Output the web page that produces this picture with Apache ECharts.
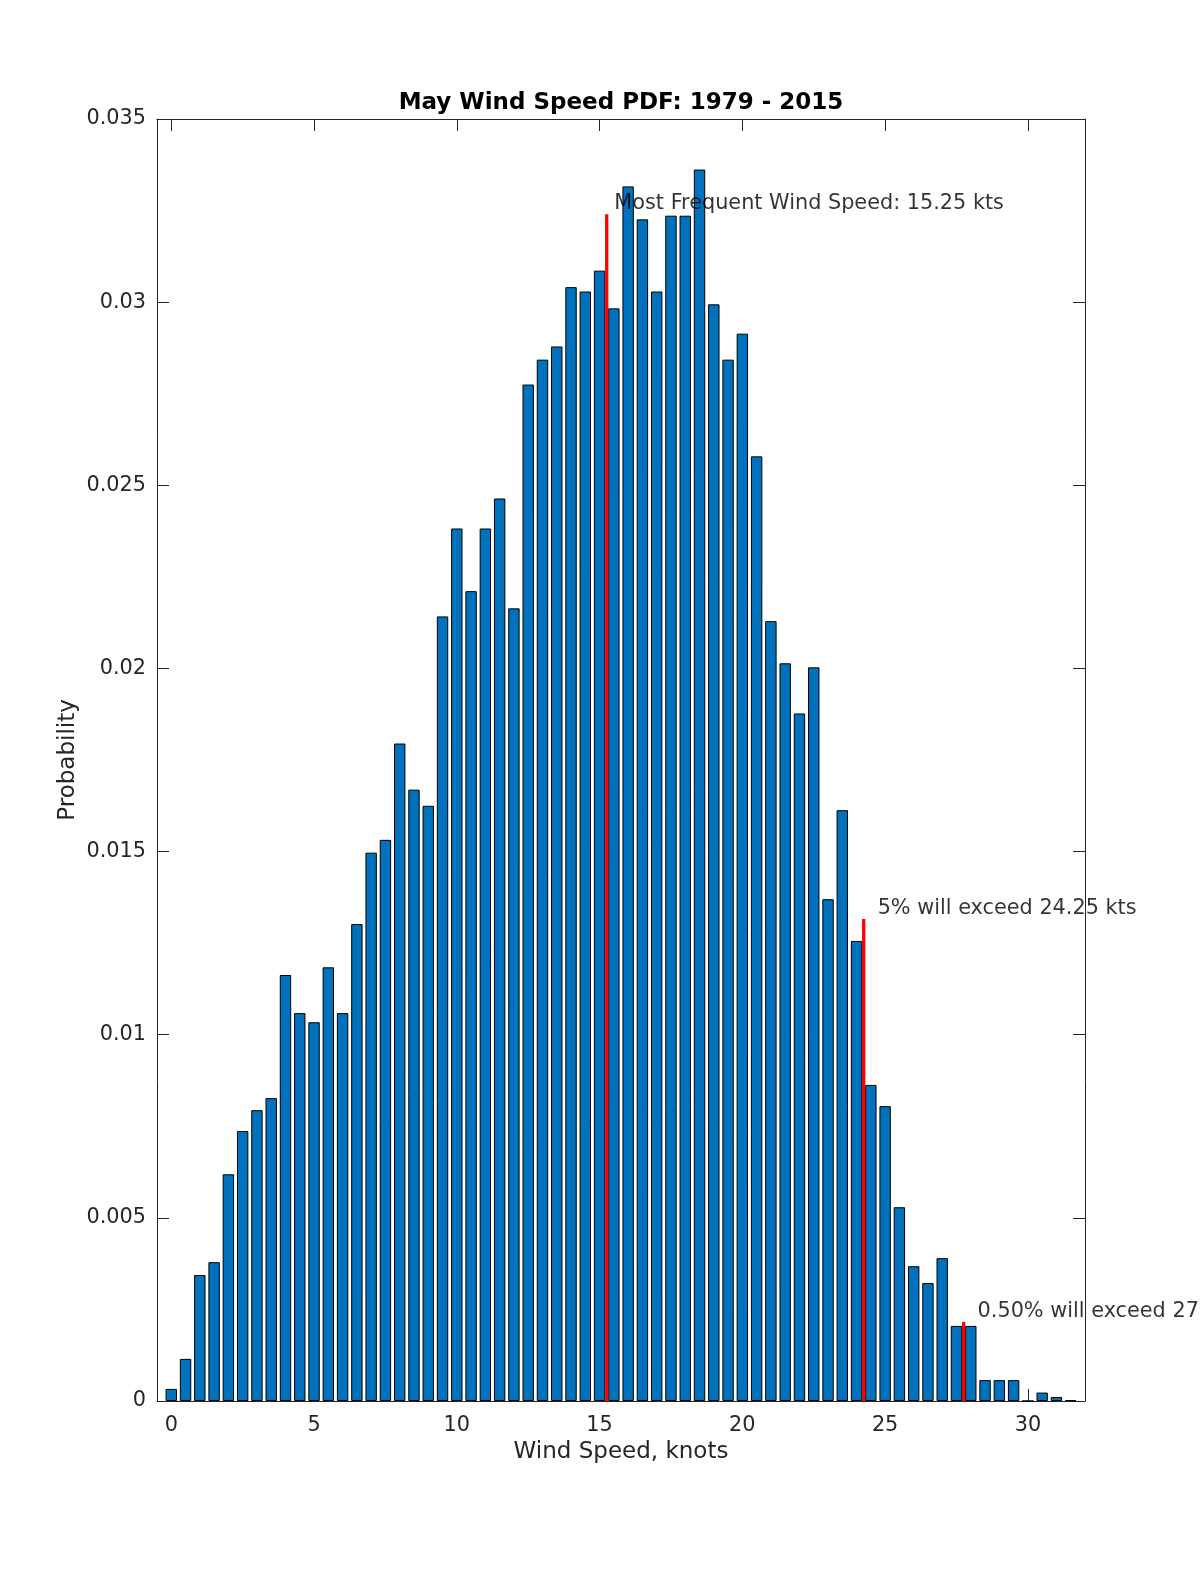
<!DOCTYPE html>
<html>
<head>
<meta charset="utf-8">
<title>May Wind Speed PDF</title>
<script src="https://cdn.jsdelivr.net/npm/echarts@6/dist/echarts.min.js"></script>
<style>
    html, body { margin: 0; padding: 0; background: #fff; }
    #wind_pdf { width: 1200px; height: 1575px; }
</style>
</head>
<body>
<div id="wind_pdf"></div>
<script>
// Bin centres, knots
var windSpeeds = [
    0, 0.5, 1, 1.5, 2, 2.5, 3, 3.5, 4, 4.5, 5, 5.5, 6, 6.5, 7, 7.5,
    8, 8.5, 9, 9.5, 10, 10.5, 11, 11.5, 12, 12.5, 13, 13.5, 14, 14.5, 15, 15.5,
    16, 16.5, 17, 17.5, 18, 18.5, 19, 19.5, 20, 20.5, 21, 21.5, 22, 22.5, 23, 23.5,
    24, 24.5, 25, 25.5, 26, 26.5, 27, 27.5, 28, 28.5, 29, 29.5, 30, 30.5, 31, 31.5
];

// Probability per bin
var probabilities = [
    0.00033, 0.00115, 0.00344, 0.00379, 0.00619, 0.00737, 0.00794, 0.00827,
    0.01163, 0.01059, 0.01034, 0.01184, 0.01059, 0.01302, 0.01497, 0.01532,
    0.01795, 0.01669, 0.01625, 0.02142, 0.02382, 0.02211, 0.02382, 0.02464,
    0.02164, 0.02775, 0.02843, 0.02879, 0.03041, 0.03029, 0.03086, 0.02983,
    0.03316, 0.03226, 0.03029, 0.03236, 0.03236, 0.03362, 0.02994, 0.02843,
    0.02914, 0.02579, 0.02129, 0.02014, 0.01877, 0.02003, 0.01370, 0.01613,
    0.01256, 0.00863, 0.00805, 0.00529, 0.00368, 0.00322, 0.00390, 0.00205,
    0.00205, 0.00057, 0.00057, 0.00057, 0, 0.00023, 0.00011, 0.00002
];

// Red marker lines
var markerSpeeds = [15.25, 24.25, 27.75];
var markerTops = [0.0324, 0.01316, 0.00216];

// Marker annotations
var noteTexts = ['Most Frequent Wind Speed: 15.25 kts', '5% will exceed 24.25 kts', '0.50% will exceed 27.75 kts'];
var noteX = [15.5, 24.72, 28.22];
var noteY = [0.03268, 0.01345, 0.00244];

// Tick labels
var xTicks = [0, 5, 10, 15, 20, 25, 30];

var WindSpeedPdf = function() {

    var _windSpeedChart = function() {

        // Define elements
        var wind_pdf_element = document.getElementById('wind_pdf');
        if (!wind_pdf_element) return;

        // Initialize chart
        var wind_pdf = echarts.init(wind_pdf_element, null, { renderer: 'canvas' });

        var axisColor = '#262626';
        var fontFamily = '"DejaVu Sans", sans-serif';

        // Build data
        var barData = windSpeeds.map(function(x, i) { return [x, probabilities[i]]; });

        var markerSeries = markerSpeeds.map(function(x, i) {
            return {
                type: 'line',
                xAxisIndex: 0,
                yAxisIndex: 0,
                data: [[x, 0], [x, markerTops[i]]],
                symbol: 'none',
                silent: true,
                z: 5,
                lineStyle: { color: '#ff0000', width: 3.3 }
            };
        });

        var noteData = noteTexts.map(function(t, i) {
            return { value: [noteX[i], noteY[i]], name: t };
        });

        // Shared x axis settings
        var xBase = {
            type: 'value',
            min: -0.5,
            max: 32,
            splitLine: { show: false },
            axisLine: { show: true, onZero: false, lineStyle: { color: axisColor, width: 1 } },
            axisTick: {
                show: true,
                inside: true,
                length: 12,
                customValues: xTicks,
                lineStyle: { color: axisColor, width: 1 }
            }
        };

        // Shared y axis settings
        var yBase = {
            type: 'value',
            min: 0,
            max: 0.035,
            interval: 0.005,
            splitLine: { show: false },
            axisLine: { show: true, onZero: false, lineStyle: { color: axisColor, width: 1 } },
            axisTick: { show: true, inside: true, length: 12, lineStyle: { color: axisColor, width: 1 } }
        };

        // Options
        var wind_pdf_options = {
            animation: false,
            backgroundColor: '#ffffff',
            textStyle: { fontFamily: fontFamily },
            title: {
                text: 'May Wind Speed PDF: 1979 - 2015',
                left: 616,
                top: 87,
                textAlign: 'center',
                textStyle: { fontFamily: fontFamily, fontSize: 23, fontWeight: 'bold', color: '#000' }
            },
            grid: {
                left: 157,
                right: 115,
                top: 119,
                bottom: 174,
                containLabel: false,
                outerBoundsMode: 'none'
            },
            xAxis: [
                Object.assign({}, xBase, {
                    position: 'bottom',
                    name: 'Wind Speed, knots',
                    nameLocation: 'middle',
                    nameGap: 40,
                    nameMoveOverlap: false,
                    nameTextStyle: { fontFamily: fontFamily, fontSize: 23, color: axisColor },
                    axisLabel: {
                        show: true,
                        customValues: xTicks,
                        margin: 14,
                        fontFamily: fontFamily,
                        fontSize: 20.8,
                        color: axisColor
                    }
                }),
                Object.assign({}, xBase, {
                    position: 'top',
                    axisLabel: { show: false }
                })
            ],
            yAxis: [
                Object.assign({}, yBase, {
                    position: 'left',
                    name: 'Probability',
                    nameLocation: 'middle',
                    nameGap: 77,
                    nameMoveOverlap: false,
                    nameTextStyle: { fontFamily: fontFamily, fontSize: 23, color: axisColor },
                    axisLabel: {
                        show: true,
                        margin: 11,
                        fontFamily: fontFamily,
                        fontSize: 20.8,
                        color: axisColor,
                        formatter: function(v) { return String(+v.toFixed(3)); }
                    }
                }),
                Object.assign({}, yBase, {
                    position: 'right',
                    axisLabel: { show: false }
                })
            ],
            series: [
                {
                    name: 'Probability',
                    type: 'bar',
                    xAxisIndex: 0,
                    yAxisIndex: 0,
                    data: barData,
                    barWidth: 11.4,
                    silent: true,
                    z: 2,
                    itemStyle: { color: '#0072BD', borderColor: '#000', borderWidth: 1 }
                },
                {
                    name: 'Notes',
                    type: 'scatter',
                    xAxisIndex: 0,
                    yAxisIndex: 0,
                    data: noteData,
                    symbolSize: 1,
                    silent: true,
                    z: 6,
                    itemStyle: { color: 'rgba(0,0,0,0)' },
                    label: {
                        show: true,
                        position: 'right',
                        distance: 0,
                        formatter: '{b}',
                        fontFamily: fontFamily,
                        fontSize: 20.8,
                        color: '#000'
                    }
                }
            ].concat(markerSeries)
        };

        wind_pdf.setOption(wind_pdf_options);
    };

    return {
        init: function() {
            _windSpeedChart();
        }
    };
}();

document.addEventListener('DOMContentLoaded', function() {
    WindSpeedPdf.init();
});
</script>
</body>
</html>
